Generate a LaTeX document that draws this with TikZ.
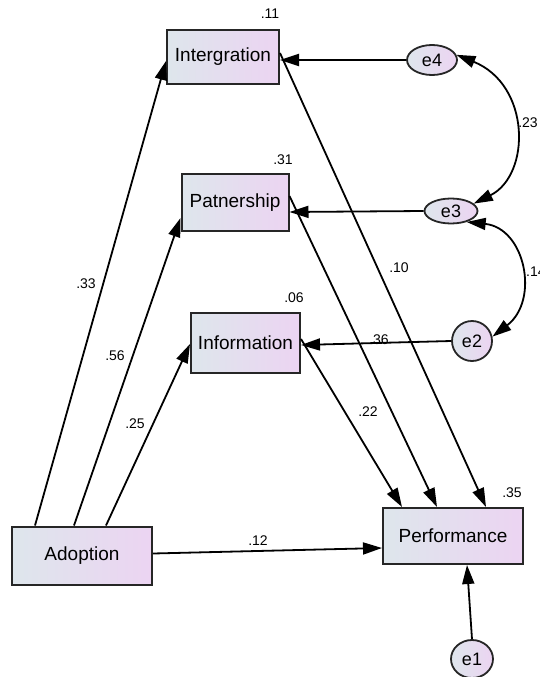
\documentclass[tikz,border=0pt]{standalone}
\usepackage{fontspec}
\setmainfont{Liberation Sans}
\usetikzlibrary{arrows.meta,shapes.geometric,calc}
\definecolor{shadeL}{HTML}{DEE6EC}
\definecolor{shadeR}{HTML}{ECD4F2}
\begin{document}
\begin{tikzpicture}[x=1pt,y=-1pt,
  var/.style={rectangle, draw=black!85, line width=2pt, left color=shadeL, right color=shadeR,
    inner sep=0pt, font=\fontsize{19}{21}\selectfont},
  err/.style={ellipse, draw=black!85, line width=1.8pt, left color=shadeL, right color=shadeR,
    inner sep=0pt, font=\fontsize{18}{20}\selectfont},
  regpath/.style={line width=1.8pt, -{Triangle[length=19pt,width=12pt]}},
  covpath/.style={line width=1.8pt, {Triangle[length=19pt,width=12pt]}-{Triangle[length=19pt,width=12pt]}},
  lab/.style={font=\fontsize{14}{16}\selectfont, inner sep=0pt}]
\useasboundingbox[fill=white] (0,0) rectangle (539,677);

% observed variables
\node[var, minimum width=112pt, minimum height=54pt] (integ) at (223,57) {Intergration};
\node[var, minimum width=107pt, minimum height=57pt] (partn) at (235,202.5) {Patnership};
\node[var, minimum width=109pt, minimum height=60pt] (inform) at (245.5,343) {Information};
\node[var, minimum width=140pt, minimum height=58pt] (adopt) at (82,555.5) {Adoption};
\node[var, minimum width=140pt, minimum height=56pt] (perf) at (453,536) {Performance};

% error terms
\node[err, minimum width=50pt, minimum height=30pt] (e4) at (432,60) {e4};
\node[err, minimum width=53pt, minimum height=25pt] (e3) at (451,211) {e3};
\node[err, minimum width=40pt, minimum height=40pt] (e2) at (472,341) {e2};
\node[err, minimum width=42pt, minimum height=38pt] (e1) at (472,659) {e1};

% regression paths
\draw[regpath] ($(adopt.north west)+(24,0)$) -- ($(integ.north west)+(0,32)$);
\draw[regpath] ($(adopt.north west)+(63,0)$) -- ($(partn.north west)+(0,45)$);
\draw[regpath] ($(adopt.north west)+(95,0)$) -- ($(inform.north west)+(0,32)$);
\draw[regpath] ($(adopt.north east)+(0,28)$) -- ($(perf.north west)+(0,41)$);
\draw[regpath] ($(integ.north east)+(0,24)$) -- ($(perf.north west)+(104,0)$);
\draw[regpath] ($(partn.north east)+(0,23)$) -- ($(perf.north west)+(55,0)$);
\draw[regpath] ($(inform.north east)+(0,27)$) -- ($(perf.north west)+(20,0)$);

% error paths
\draw[regpath] (e4.west) -- ($(integ.north east)+(0,31)$);
\draw[regpath] (e3.west) -- ($(partn.north east)+(0,39)$);
\draw[regpath] (e2.west) -- ($(inform.north east)+(0,33)$);
\draw[regpath] (e1.north) -- ($(perf.south west)+(85,0)$);

% covariances
\draw[covpath] (e4.12) .. controls (531,85) and (531,175) .. (e3.18);
\draw[covpath] (e3.-35) .. controls (525,228) and (540,300) .. (e2.12);

% estimates
\node[lab] (r11) at (270,14) {.11};
\node[lab] (r31) at (283,160) {.31};
\node[lab] (r06) at (294,298) {.06};
\node[lab] (r35) at (512,493) {.35};
\node[lab] (w33) at (86,284) {.33};
\node[lab] (w56) at (115,356) {.56};
\node[lab] (w25) at (135,424) {.25};
\node[lab] (w12) at (258,541) {.12};
\node[lab] (w10) at (399,268) {.10};
\node[lab] (w36) at (379,340) {.36};
\node[lab] (w22) at (368,412) {.22};
\node[lab] (c23) at (528,123) {.23};
\node[lab, anchor=west] (c14) at (526,272) {.14};
\end{tikzpicture}
\end{document}
